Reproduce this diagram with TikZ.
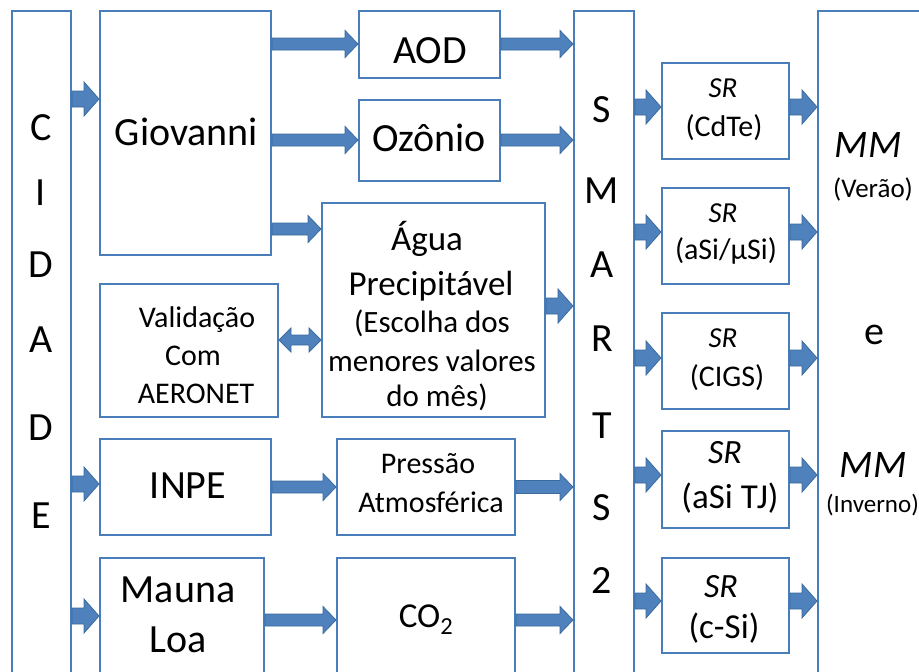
\documentclass[tikz,border=0pt]{standalone}
\usepackage{fontspec}
\setmainfont{Carlito}
\usetikzlibrary{calc}
\definecolor{boxc}{HTML}{4A7EBB}
\definecolor{arrf}{HTML}{4F81BD}
\definecolor{arrd}{HTML}{3A6A9E}
\newcommand\fsz[1]{\fontsize{#1}{#1}\selectfont}
% single block arrow: from, to, shaft half, head half, head length
\newcommand\barr[5]{%
  \draw[blockarrow] let \p1=(#1), \p2=(#2) in
    (\x1,{\y1+#3pt}) -- ({\x2-#5pt},{\y1+#3pt}) -- ({\x2-#5pt},{\y1+#4pt}) -- (\x2,\y1)
    -- ({\x2-#5pt},{\y1-#4pt}) -- ({\x2-#5pt},{\y1-#3pt}) -- (\x1,{\y1-#3pt}) -- cycle;}
% double block arrow
\newcommand\dbarr[5]{%
  \draw[blockarrow] let \p1=(#1), \p2=(#2) in
    (\x1,\y1) -- ({\x1+#5pt},{\y1+#4pt}) -- ({\x1+#5pt},{\y1+#3pt}) -- ({\x2-#5pt},{\y1+#3pt})
    -- ({\x2-#5pt},{\y1+#4pt}) -- (\x2,\y1) -- ({\x2-#5pt},{\y1-#4pt}) -- ({\x2-#5pt},{\y1-#3pt})
    -- ({\x1+#5pt},{\y1-#3pt}) -- ({\x1+#5pt},{\y1-#4pt}) -- cycle;}
\tikzset{
  box/.style={draw=boxc, line width=2pt, inner sep=0pt, fill=white},
  blockarrow/.style={fill=arrf, draw=arrd, line width=0.8pt, line join=miter},
  tx/.style={inner sep=0pt, anchor=base, text=black},
}
\begin{document}
\begin{tikzpicture}[x=1pt,y=-1pt]
\useasboundingbox (0,0) rectangle (919,672);
\clip (0,0) rectangle (919,672);
\fill[white] (0,0) rectangle (919,672);

% boxes
\node[box, minimum width=59pt, minimum height=689pt] (cid) at (41.5,355.5) {};
\node[box, minimum width=171pt, minimum height=244pt] (giov) at (185.5,133) {};
\node[box, minimum width=141pt, minimum height=67pt] (aod) at (429.5,44.5) {};
\node[box, minimum width=141pt, minimum height=81pt] (ozo) at (429.5,140.5) {};
\node[box, minimum width=223pt, minimum height=214pt] (agua) at (433.5,310) {};
\node[box, minimum width=178pt, minimum height=133pt] (val) at (189,350.5) {};
\node[box, minimum width=171pt, minimum height=96pt] (inpe) at (185.5,487) {};
\node[box, minimum width=178pt, minimum height=96pt] (pres) at (426,487) {};
\node[box, minimum width=164pt, minimum height=142pt] (mauna) at (182,629) {};
\node[box, minimum width=178pt, minimum height=142pt] (co2) at (426,629) {};
\node[box, minimum width=60pt, minimum height=689pt] (smarts) at (604,355.5) {};
\node[box, minimum width=127pt, minimum height=96pt] (sr1) at (725.5,111) {};
\node[box, minimum width=127pt, minimum height=96pt] (sr2) at (725.5,236) {};
\node[box, minimum width=127pt, minimum height=96pt] (sr3) at (725.5,361) {};
\node[box, minimum width=127pt, minimum height=97pt] (sr4) at (725.5,479.5) {};
\node[box, minimum width=127pt, minimum height=95pt] (sr5) at (725.5,605.5) {};
\node[box, minimum width=142pt, minimum height=689pt] (mm) at (889,355.5) {};

% row coordinates
\coordinate (r44) at (0,44);
\coordinate (r99) at (0,99);
\coordinate (r107) at (0,107);
\coordinate (r140) at (0,140);
\coordinate (r229) at (0,229);
\coordinate (r232) at (0,232);
\coordinate (r306) at (0,306);
\coordinate (r340) at (0,340);
\coordinate (r358) at (0,358);
\coordinate (r475) at (0,475);
\coordinate (r484) at (0,484);
\coordinate (r487) at (0,487);
\coordinate (r601) at (0,601);
\coordinate (r616) at (0,616);
\coordinate (r620) at (0,620);

% arrows
\barr{cid.east |- r99}{giov.west |- r99}{8}{17}{15}
\barr{cid.east |- r484}{inpe.west |- r484}{8}{17}{15}
\barr{cid.east |- r616}{mauna.west |- r616}{8}{17}{15}
\barr{giov.east |- r44}{aod.west |- r44}{6}{13.5}{13}
\barr{giov.east |- r140}{ozo.west |- r140}{6}{13.5}{13}
\barr{giov.east |- r229}{agua.west |- r229}{6}{13.5}{13}
\dbarr{val.east |- r340}{agua.west |- r340}{5}{12}{12}
\barr{inpe.east |- r487}{pres.west |- r487}{6}{13.5}{13}
\barr{mauna.east |- r620}{co2.west |- r620}{6}{13.5}{13}
\barr{aod.east |- r44}{smarts.west |- r44}{6}{13.5}{13}
\barr{ozo.east |- r140}{smarts.west |- r140}{6}{13.5}{13}
\barr{agua.east |- r306}{smarts.west |- r306}{8}{17}{15}
\barr{pres.east |- r487}{smarts.west |- r487}{6.5}{13.5}{13}
\barr{co2.east |- r620}{smarts.west |- r620}{6}{13.5}{13}
\barr{smarts.east |- r107}{sr1.west |- r107}{8}{17}{15}
\barr{smarts.east |- r232}{sr2.west |- r232}{8}{17}{15}
\barr{smarts.east |- r358}{sr3.west |- r358}{8}{17}{15}
\barr{smarts.east |- r475}{sr4.west |- r475}{8}{17}{15}
\barr{smarts.east |- r601}{sr5.west |- r601}{8}{17}{15}
\barr{sr1.east |- r107}{mm.west |- r107}{8}{17}{15}
\barr{sr2.east |- r232}{mm.west |- r232}{8}{17}{15}
\barr{sr3.east |- r358}{mm.west |- r358}{8}{17}{15}
\barr{sr4.east |- r475}{mm.west |- r475}{8}{17}{15}
\barr{sr5.east |- r601}{mm.west |- r601}{8}{17}{15}

% CIDADE
\foreach \l/\b [count=\i] in {C/140, I/205, D/277, A/352, D/440, E/528}
  \node[tx, font=\fsz{40}] (cidl\i) at (41,\b) {\l};
% SMARTS2
\foreach \l/\b [count=\i] in {S/122, M/203, A/277, R/351, T/438, S/520, 2/593}
  \node[tx, font=\fsz{40}] (smal\i) at (602,\b) {\l};

% texts
\node[tx, font=\fsz{40}] (tgiov) at (186.5,145) {Giovanni};
\node[tx, font=\fsz{40}] (taod) at (430,63) {AOD};
\node[tx, font=\fsz{40}] (tozo) at (429,151) {Ozônio};
\node[tx, font=\fsz{35}] (tag1) at (427,250) {Água};
\node[tx, font=\fsz{35}] (tag2) at (431,295) {Precipitável};
\node[tx, font=\fsz{31}] (tag3) at (432,332) {(Escolha dos};
\node[tx, font=\fsz{31}] (tag4) at (432,371) {menores valores};
\node[tx, font=\fsz{31}] (tag5) at (437,406) {do mês)};
\node[tx, font=\fsz{30}] (tval1) at (197,327) {Validação};
\node[tx, font=\fsz{30}] (tval2) at (193,365) {Com};
\node[tx, font=\fsz{30}] (tval3) at (196,403) {AERONET};
\node[tx, font=\fsz{40}] (tinpe) at (188,498) {INPE};
\node[tx, font=\fsz{30}] (tpres1) at (428,473) {Pressão};
\node[tx, font=\fsz{30}] (tpres2) at (431,512) {Atmosférica};
\node[tx, font=\fsz{40}] (tmau1) at (178,602) {Mauna};
\node[tx, font=\fsz{40}] (tmau2) at (178,652) {Loa};
\node[tx, font=\fsz{35}] (tco2) at (426,627) {CO\textsubscript{2}};

\node[tx, font=\fsz{29}\itshape] (tsr1a) at (723,97) {SR};
\node[tx, font=\fsz{30}] (tsr1b) at (724,136) {(CdTe)};
\node[tx, font=\fsz{29}\itshape] (tsr2a) at (723,222) {SR};
\node[tx, font=\fsz{30}] (tsr2b) at (726,259) {(aSi/µSi)};
\node[tx, font=\fsz{29}\itshape] (tsr3a) at (723,347) {SR};
\node[tx, font=\fsz{30}] (tsr3b) at (727,386) {(CIGS)};
\node[tx, font=\fsz{34}\itshape] (tsr4a) at (725,463) {SR};
\node[tx, font=\fsz{35}] (tsr4b) at (730,508) {(aSi TJ)};
\node[tx, font=\fsz{34}\itshape] (tsr5a) at (721,597) {SR};
\node[tx, font=\fsz{35}] (tsr5b) at (724,638) {(c-Si)};

\node[tx, font=\fsz{39}\itshape] (tmm1) at (868,157) {MM};
\node[tx, font=\fsz{27}] (tmm2) at (873,197) {(Verão)};
\node[tx, font=\fsz{40}] (tmm3) at (874,344) {e};
\node[tx, font=\fsz{39}\itshape] (tmm4) at (873,477) {MM};
\node[tx, font=\fsz{25}] (tmm5) at (872.5,512) {(Inverno)};
\end{tikzpicture}
\end{document}
